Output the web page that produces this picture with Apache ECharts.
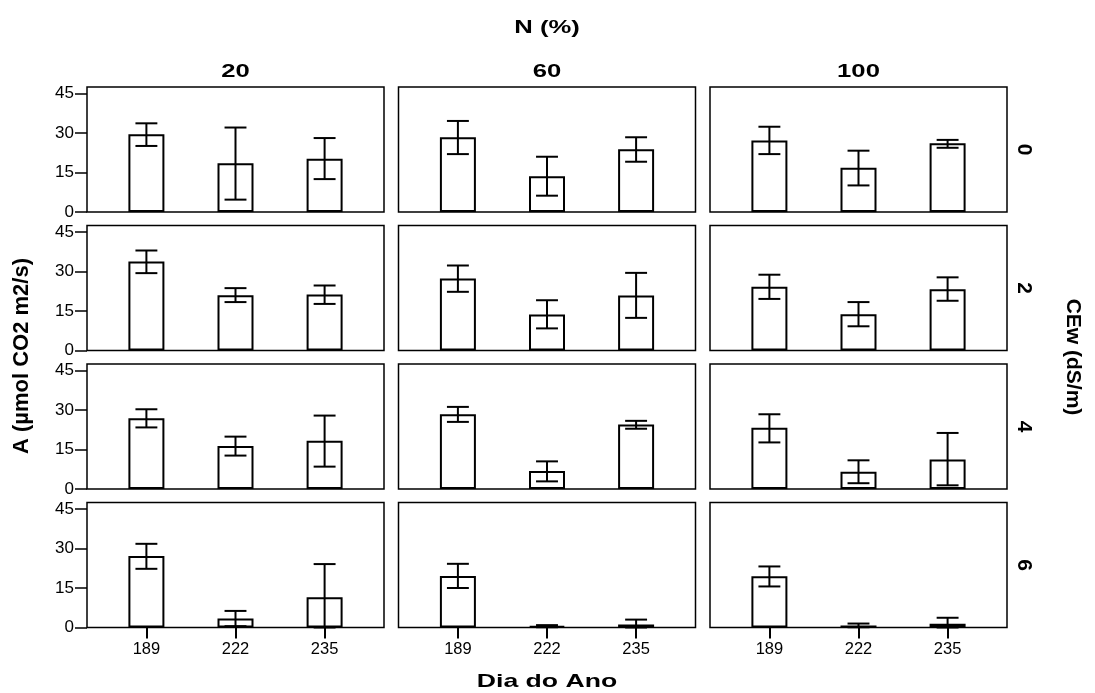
<!DOCTYPE html>
<html>
<head>
<meta charset="utf-8">
<script src="https://cdn.jsdelivr.net/npm/echarts@6/dist/echarts.min.js"></script>
<style>
html,body{margin:0;padding:0;background:#fff;}
#chart{width:1095px;height:693px;}
</style>
</head>
<body>
<div id="chart"></div>
<script>
// ---- data ----
const days = ['189', '222', '235'];
const nLevels = ['20', '60', '100'];
const cewLevels = ['0', '2', '4', '6'];
const yTicks = [0, 15, 30, 45];

// each array: [N=20, N=60, N=100], each with values for days 189, 222, 235
const mean_CE0 = [[29.5, 18.5, 20.2], [28.4, 13.6, 23.8], [27.2, 16.8, 26.1]];
const low_CE0  = [[25.1, 4.7, 12.5], [22.0, 6.2, 19.1], [22.0, 10.1, 24.4]];
const high_CE0 = [[33.7, 32.1, 28.1], [34.6, 21.0, 28.4], [32.4, 23.3, 27.4]];

const mean_CE2 = [[33.8, 21.0, 21.3], [27.4, 13.7, 20.9], [24.2, 13.8, 23.3]];
const low_CE2  = [[29.4, 18.4, 17.7], [22.3, 8.4, 12.4], [19.6, 9.2, 18.9]];
const high_CE2 = [[38.0, 23.7, 24.7], [32.3, 19.1, 29.5], [28.8, 18.4, 27.8]];

const mean_CE4 = [[26.9, 16.3, 18.3], [28.4, 6.8, 24.5], [23.3, 6.6, 11.2]];
const low_CE4  = [[23.4, 12.7, 8.5], [25.5, 2.9, 22.9], [17.7, 2.2, 1.4]];
const high_CE4 = [[30.3, 19.9, 27.9], [31.2, 10.5, 25.9], [28.4, 10.9, 21.3]];

const mean_CE6 = [[27.2, 3.4, 11.5], [19.6, 0.5, 1.1], [19.5, 0.8, 1.4]];
const low_CE6  = [[22.3, 0.5, 0], [15.0, 0.1, 0], [15.6, 0.1, 0]];
const high_CE6 = [[31.8, 6.3, 24.1], [24.2, 0.9, 3.0], [23.2, 1.5, 3.7]];

const means = [mean_CE0, mean_CE2, mean_CE4, mean_CE6];
const lows = [low_CE0, low_CE2, low_CE4, low_CE6];
const highs = [high_CE0, high_CE2, high_CE4, high_CE6];

// ---- layout ----
const FONT = '"Liberation Sans", Arial, sans-serif';
const colLeft = [87, 398.5, 710];
const rowTop = [87, 225.5, 364, 502.5];
const panelW = 297, panelH = 125;

const grids = [], xAxes = [], yAxes = [], series = [];
for (let r = 0; r < 4; r++) {
  for (let c = 0; c < 3; c++) {
    const idx = r * 3 + c;
    grids.push({
      left: colLeft[c], top: rowTop[r], width: panelW, height: panelH,
      show: true, borderColor: '#000', borderWidth: 1.5, backgroundColor: 'transparent'
    });
    xAxes.push({
      gridIndex: idx, type: 'value', min: 1 / 3, max: 11 / 3,
      axisLine: { show: false }, splitLine: { show: false },
      axisTick: { show: r === 3, customValues: [1, 2, 3], length: 11, lineStyle: { color: '#000', width: 2 } },
      axisLabel: { show: r === 3, customValues: [1, 2, 3], formatter: v => days[Math.round(v) - 1],
        color: '#000', fontSize: 16.5, fontFamily: FONT, margin: 13 }
    });
    yAxes.push({
      gridIndex: idx, type: 'value', min: 0, max: 47.5,
      axisLine: { show: false }, splitLine: { show: false },
      axisTick: { show: c === 0, customValues: yTicks, length: 12, lineStyle: { color: '#000', width: 1.5 } },
      axisLabel: { show: c === 0, customValues: yTicks, color: '#000', fontSize: 17, fontFamily: FONT, margin: 13 }
    });
    series.push({
      type: 'bar', xAxisIndex: idx, yAxisIndex: idx, barWidth: 36, silent: true,
      data: days.map((d, i) => [i + 1, means[r][c][i]]),
      itemStyle: { color: '#fff', borderColor: '#000', borderWidth: 2 }
    });
    series.push({
      type: 'custom', xAxisIndex: idx, yAxisIndex: idx, silent: true, z: 5,
      encode: { x: 0, y: [1, 2] },
      data: days.map((d, i) => [i + 1, lows[r][c][i], highs[r][c][i]]),
      renderItem: function (params, api) {
        const x = api.value(0);
        const lo = api.coord([x, api.value(1)]);
        const hi = api.coord([x, api.value(2)]);
        const hw = api.size([0.123, 0])[0];
        const st = { stroke: '#000', lineWidth: 2 };
        return {
          type: 'group', children: [
            { type: 'line', shape: { x1: lo[0], y1: lo[1], x2: hi[0], y2: hi[1] }, style: st },
            { type: 'line', shape: { x1: hi[0] - hw, y1: hi[1], x2: hi[0] + hw, y2: hi[1] }, style: st },
            { type: 'line', shape: { x1: lo[0] - hw, y1: lo[1], x2: lo[0] + hw, y2: lo[1] }, style: st }
          ]
        };
      }
    });
  }
}

const boldFont = 'bold 19px ' + FONT;
const graphics = [
  { type: 'text', x: 547, y: 28, scaleX: 1.35, style: { text: 'N (%)', font: boldFont, fill: '#000', align: 'center', verticalAlign: 'middle' } },
  { type: 'text', x: 547, y: 682, scaleX: 1.4, style: { text: 'Dia do Ano', font: boldFont, fill: '#000', align: 'center', verticalAlign: 'middle' } },
  { type: 'text', x: 22, y: 356, rotation: Math.PI / 2, style: { text: 'A (µmol CO2 m2/s)', font: 'bold 22px ' + FONT, fill: '#000', align: 'center', verticalAlign: 'middle' } },
  { type: 'text', x: 1073, y: 357, rotation: -Math.PI / 2, style: { text: 'CEw (dS/m)', font: 'bold 21px ' + FONT, fill: '#000', align: 'center', verticalAlign: 'middle' } }
];
nLevels.forEach((t, c) => graphics.push({
  type: 'text', x: colLeft[c] + panelW / 2, y: 72, scaleX: 1.35,
  style: { text: t, font: boldFont, fill: '#000', align: 'center', verticalAlign: 'middle' }
}));
cewLevels.forEach((t, r) => graphics.push({
  type: 'text', x: 1024, y: rowTop[r] + panelH / 2, rotation: -Math.PI / 2,
  style: { text: t, font: 'bold 21px ' + FONT, fill: '#000', align: 'center', verticalAlign: 'middle' }
}));

const chart = echarts.init(document.getElementById('chart'), null, { renderer: 'canvas' });
chart.setOption({
  animation: false,
  backgroundColor: '#fff',
  grid: grids, xAxis: xAxes, yAxis: yAxes, series: series,
  graphic: graphics
});
</script>
</body>
</html>
